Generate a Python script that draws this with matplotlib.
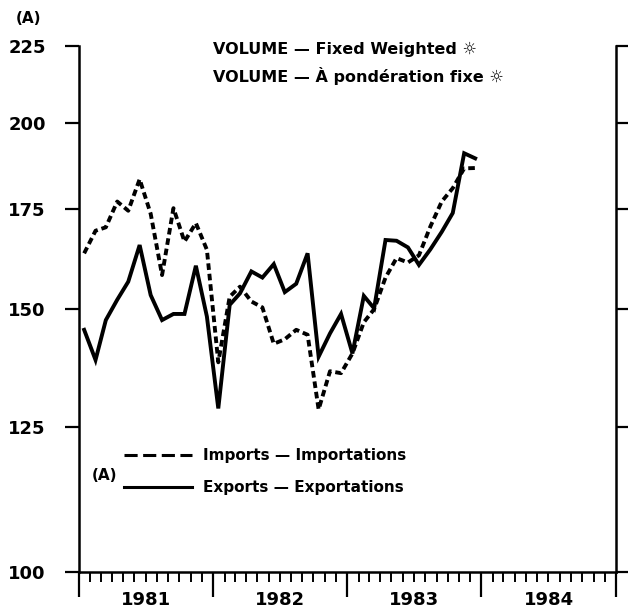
import datetime as dt
import matplotlib
matplotlib.use('Agg')
import matplotlib.pyplot as plt
import matplotlib.dates as mdates
from matplotlib.lines import Line2D
from matplotlib.ticker import FixedLocator, NullFormatter, NullLocator


# monthly index values, Jan 1981 - Dec 1983 (log scale, 100-225)
months = [dt.date(1981 + i // 12, i % 12 + 1, 15) for i in range(36)]

exports = [145.3, 138.7, 147.5, 152.2, 156.5, 165.6, 153.3, 147.5, 148.9, 148.9, 160.4, 148.3,
           128.7, 151.0, 153.7, 159.0, 157.5, 160.8, 154.0, 156.0, 163.5, 139.4, 144.5, 148.9,
           140.1, 153.1, 150.2, 166.9, 166.7, 165.0, 160.6, 164.5, 169.0, 174.0, 190.8, 189.3]

imports = [163.5, 169.3, 170.2, 177.1, 174.6, 183.3, 173.8, 158.1, 175.3, 166.5, 171.3, 164.4,
           138.2, 152.9, 155.3, 151.8, 150.4, 142.2, 143.2, 145.3, 144.2, 128.5, 136.3, 135.9,
           140.1, 147.0, 150.0, 157.5, 162.3, 161.2, 163.0, 170.4, 177.1, 180.8, 186.4, 186.5]

y_ticks = [100, 125, 150, 175, 200, 225]
years = ['1981', '1982', '1983', '1984']

title_lines = ['VOLUME \u2014 Fixed Weighted \u263c',
               'VOLUME \u2014 \u00c0 pond\u00e9ration fixe \u263c']
imports_label = 'Imports \u2014 Importations'
exports_label = 'Exports \u2014 Exportations'

plt.rcParams['font.family'] = ['DejaVu Sans']
plt.rcParams['font.weight'] = 'bold'

fig = plt.figure(figsize=(6.28, 6.12), dpi=100)
ax = fig.add_axes([0.1258, 0.0654, 0.855, 0.8588])

ax.plot(months, imports, color='black', lw=2.8, dashes=(1.7, 1.0), solid_joinstyle='miter')
ax.plot(months, exports, color='black', lw=2.8, solid_joinstyle='miter')

ax.set_yscale('log')
ax.set_ylim(100, 225)
ax.yaxis.set_major_locator(FixedLocator(y_ticks))
ax.yaxis.set_minor_locator(NullLocator())
ax.set_yticklabels([str(v) for v in y_ticks])
ax.tick_params(axis='y', which='major', direction='out', length=10, width=1.6,
               left=True, right=True, labelsize=13, pad=14)

ax.set_xlim(dt.date(1981, 1, 1), dt.date(1985, 1, 1))
ax.xaxis.set_major_locator(mdates.YearLocator())
ax.xaxis.set_minor_locator(mdates.MonthLocator())
ax.xaxis.set_major_formatter(NullFormatter())
ax.tick_params(axis='x', which='major', direction='out', length=18, width=1.6)
ax.tick_params(axis='x', which='minor', direction='out', length=7.5, width=1.4)

# year labels centred under each year
sec = ax.secondary_xaxis('bottom')
sec.set_xticks([mdates.date2num(dt.date(int(y), 7, 2)) for y in years])
sec.set_xticklabels(years)
sec.tick_params(length=0, labelsize=13, pad=14)
sec.spines['bottom'].set_visible(False)

ax.spines['top'].set_visible(False)
for s in ['left', 'right', 'bottom']:
    ax.spines[s].set_linewidth(1.8)

for i, line in enumerate(title_lines):
    ax.text(0.2495, 0.995 - 0.051 * i, line, transform=ax.transAxes,
            ha='left', va='center', fontsize=11.5, fontweight='bold')

fig.text(0.0446, 0.969, '(A)', ha='center', va='center', fontsize=11, fontweight='bold')

handles = [Line2D([], [], color='black', lw=2.2, dashes=(4.3, 1.8)),
           Line2D([], [], color='black', lw=2.2)]
ax.legend(handles, [imports_label, exports_label], loc='upper left',
          bbox_to_anchor=(0.083, 0.235), frameon=False, fontsize=11,
          handlelength=4.5, handletextpad=0.7, labelspacing=1.1,
          borderpad=0, borderaxespad=0)
ax.text(0.048, 0.183, '(A)', transform=ax.transAxes, ha='center', va='center',
        fontsize=11, fontweight='bold')

fig.savefig('out.png', dpi=100)
